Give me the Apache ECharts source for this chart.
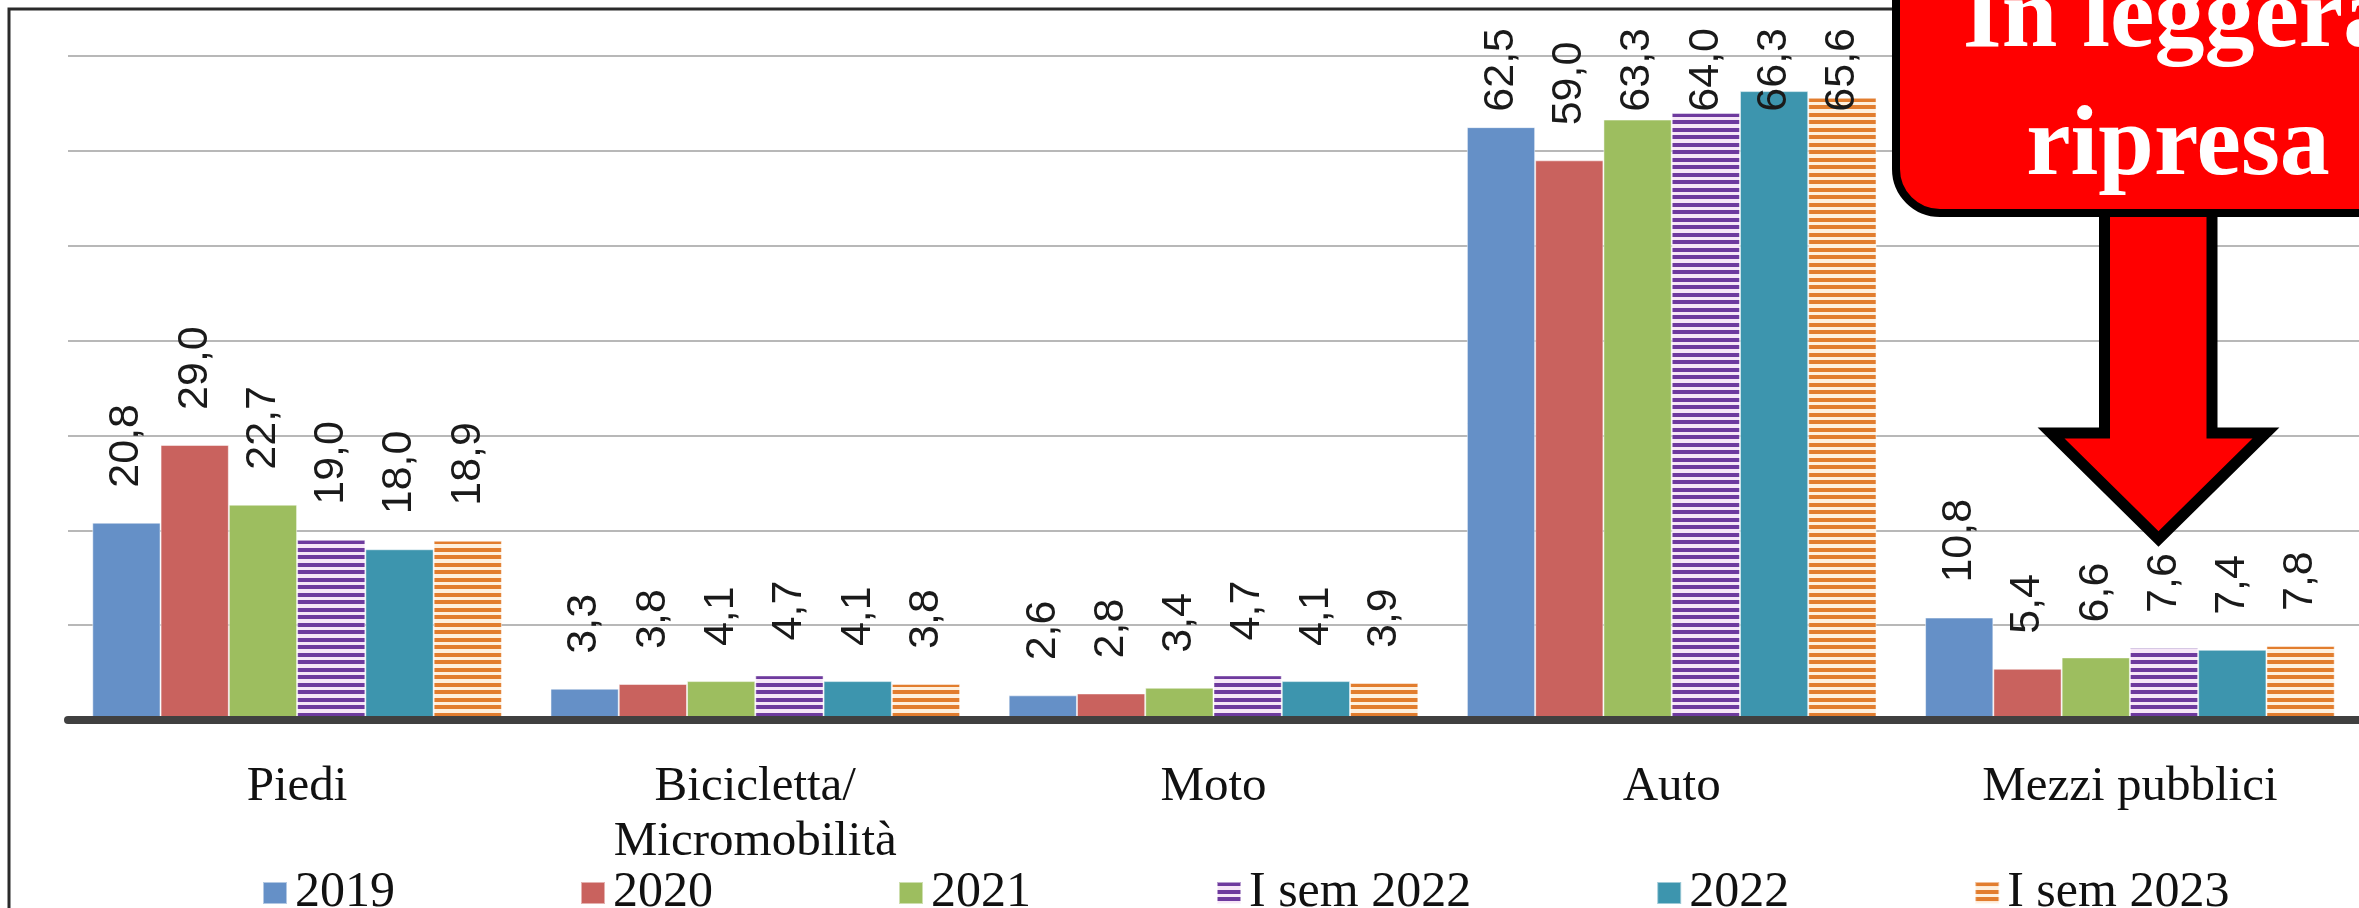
<!DOCTYPE html>
<html>
<head>
<meta charset="utf-8">
<script src="https://cdn.jsdelivr.net/npm/echarts@6/dist/echarts.min.js"></script>
<style>
html,body{margin:0;padding:0;background:#ffffff;}
#chart{width:2359px;height:908px;}
</style>
</head>
<body>
<div id="chart"></div>
<script>
// ---- data ----
const categories = ['Piedi', 'Bicicletta/\nMicromobilità', 'Moto', 'Auto', 'Mezzi pubblici'];
const seriesNames = ['2019', '2020', '2021', 'I sem 2022', '2022', 'I sem 2023'];
const values2019 = [20.8, 3.3, 2.6, 62.5, 10.8];
const values2020 = [29.0, 3.8, 2.8, 59.0, 5.4];
const values2021 = [22.7, 4.1, 3.4, 63.3, 6.6];
const valuesSem2022 = [19.0, 4.7, 4.7, 64.0, 7.6];
const values2022 = [18.0, 4.1, 4.1, 66.3, 7.4];
const valuesSem2023 = [18.9, 3.8, 3.9, 65.6, 7.8];
const yMin = 0, yMax = 70, yStep = 10;
const calloutLines = ['In leggera', 'ripresa'];

// ---- styles ----
function stripes(lineColor, bgColor) {
  // horizontal stripe pattern, period ~7.5px
  const cv = document.createElement('canvas');
  cv.width = 8; cv.height = 15;
  const ctx = cv.getContext('2d');
  ctx.fillStyle = bgColor; ctx.fillRect(0, 0, 8, 15);
  ctx.fillStyle = lineColor;
  ctx.fillRect(0, 0, 8, 4);
  ctx.fillRect(0, 8, 8, 4);
  return { image: cv, repeat: 'repeat' };
}
const colors = [
  '#6590C7',
  '#C9625E',
  '#9DBE5F',
  stripes('#6E3A9E', '#F6E6F7'),
  '#3D95AE',
  stripes('#E27D2E', '#FEF0DE')
];
const allValues = [values2019, values2020, values2021, valuesSem2022, values2022, valuesSem2023];

const chart = echarts.init(document.getElementById('chart'), null, { renderer: 'canvas' });

const LABEL_MIN_TOP = 28;
const series = seriesNames.map((name, i) => ({
  name: name,
  type: 'bar',
  data: allValues[i],
  barGap: '0%',
  barCategoryGap: '10.6%',
  itemStyle: { color: colors[i], borderColor: 'rgba(255,255,255,0.5)', borderWidth: 1 },
  label: {
    show: true,
    position: 'top',
    distance: 35,
    rotate: 90,
    align: 'left',
    verticalAlign: 'middle',
    fontFamily: 'Liberation Sans',
    fontSize: 43,
    color: '#1a1a1a',
    formatter: p => p.value.toFixed(1).replace('.', ',')
  },
  labelLayout: function (p) {
    if (p.labelRect.y < LABEL_MIN_TOP) {
      return { y: LABEL_MIN_TOP + p.labelRect.height };
    }
    return {};
  },
  emphasis: { disabled: true }
}));

const option = {
  backgroundColor: '#ffffff',
  animation: false,
  grid: { left: 68, top: 56, bottom: 188, width: 2300 },
  legend: {
    data: seriesNames,
    left: 257,
    top: 863,
    itemWidth: 24,
    itemHeight: 22,
    itemGap: 185,
    icon: 'rect',
    textStyle: {
      fontFamily: 'Liberation Serif',
      fontSize: 50,
      lineHeight: 50,
      color: '#111111',
      padding: [0, 0, 0, 3]
    }
  },
  xAxis: {
    type: 'category',
    data: categories,
    z: 5,
    axisLine: { show: true, lineStyle: { color: '#404040', width: 8 } },
    axisTick: { show: false },
    axisLabel: {
      interval: 0,
      margin: 40,
      fontFamily: 'Liberation Serif',
      fontSize: 49,
      lineHeight: 55,
      color: '#111111'
    }
  },
  yAxis: {
    type: 'value',
    min: yMin,
    max: yMax,
    interval: yStep,
    axisLine: { show: false },
    axisTick: { show: false },
    axisLabel: { show: false },
    splitLine: { show: true, lineStyle: { color: '#b8b8b8', width: 2 } }
  },
  series: series,
  graphic: [
    {
      type: 'rect',
      z: 50,
      shape: { x: 9, y: 9, width: 3000, height: 2000 },
      style: { fill: 'none', stroke: '#2a2a2a', lineWidth: 3 },
      silent: true
    },
    {
      type: 'polygon',
      z: 100,
      shape: {
        points: [[2104.5, 205], [2212, 205], [2212, 433], [2266, 433], [2158.5, 539], [2051, 433], [2104.5, 433]]
      },
      style: { fill: '#ff0000', stroke: '#000000', lineWidth: 11, lineJoin: 'miter', miterLimit: 10 },
      silent: true
    },
    {
      type: 'rect',
      z: 101,
      shape: { x: 1896, y: -200, width: 800, height: 413, r: 44 },
      style: { fill: '#ff0000', stroke: '#000000', lineWidth: 8 },
      silent: true
    },
    {
      type: 'text',
      z: 102,
      style: {
        text: calloutLines[0], x: 2178, y: 20,
        align: 'center', verticalAlign: 'middle',
        fill: '#ffffff',
        fontFamily: 'Liberation Serif', fontWeight: 'bold', fontSize: 100,
        shadowColor: 'rgba(0,0,0,0.55)', shadowBlur: 4, shadowOffsetX: 4, shadowOffsetY: 4
      },
      silent: true
    },
    {
      type: 'text',
      z: 102,
      style: {
        text: calloutLines[1], x: 2178, y: 148,
        align: 'center', verticalAlign: 'middle',
        fill: '#ffffff',
        fontFamily: 'Liberation Serif', fontWeight: 'bold', fontSize: 100,
        shadowColor: 'rgba(0,0,0,0.55)', shadowBlur: 4, shadowOffsetX: 4, shadowOffsetY: 4
      },
      silent: true
    }
  ]
};
chart.setOption(option);
</script>
</body>
</html>
